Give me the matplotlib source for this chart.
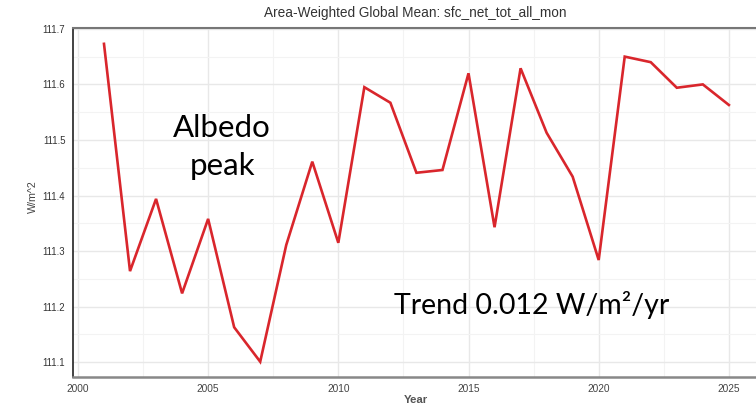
import matplotlib
matplotlib.use("Agg")
import matplotlib.pyplot as plt
from matplotlib.ticker import MultipleLocator, FormatStrFormatter

years = list(range(2001, 2026))
values = [111.673, 111.264, 111.394, 111.224, 111.358, 111.163, 111.101, 111.311,
          111.461, 111.315, 111.595, 111.567, 111.441, 111.446, 111.620, 111.343,
          111.629, 111.513, 111.434, 111.284, 111.650, 111.640, 111.594, 111.600,
          111.563]
title = "Area-Weighted Global Mean: sfc_net_tot_all_mon"
xlabel = "Year"
ylabel = "W/m^2"
note1a = "Albedo"
note1b = "peak"
note2 = "Trend 0.012 W/m²/yr"

plt.rcParams["font.family"] = ["Liberation Sans", "DejaVu Sans"]

fig = plt.figure(figsize=(7.56, 4.12), dpi=100)
ax = fig.add_axes([73/756, 1-377/412, 1-73/756+0.002, (377-28)/412])

ax.plot(years, values, color="#d9262c", lw=1.9, solid_joinstyle="miter")
ax.xaxis.set_major_locator(MultipleLocator(5))
ax.xaxis.set_minor_locator(MultipleLocator(2.5))
ax.yaxis.set_major_locator(MultipleLocator(0.1))
ax.yaxis.set_minor_locator(MultipleLocator(0.05))
ax.yaxis.set_major_formatter(FormatStrFormatter("%.1f"))
ax.set_xlim(1999.81, 2026.1)
ax.set_ylim(111.0735, 111.7015)
ax.grid(which="major", color="#e8e8e8", lw=1.0)
ax.grid(which="minor", color="#f3f3f3", lw=0.8)
ax.set_axisbelow(True)
ax.tick_params(which="both", length=0)
ax.tick_params(axis="x", labelsize=7.3, labelcolor="#444444", pad=5)
ax.tick_params(axis="y", labelsize=6.9, labelcolor="#333333", pad=5.5)
ax.spines["right"].set_visible(False)
ax.spines["left"].set_color("#222222")
ax.spines["left"].set_linewidth(1.2)
ax.spines["bottom"].set_color("#888888")
ax.spines["bottom"].set_linewidth(1.8)
ax.spines["top"].set_color("#777777")
ax.spines["top"].set_linewidth(1.5)

fig.text(415/756, 1-13/412, title, ha="center", va="center", fontsize=9.8, color="#333333")
fig.text(33/756, 1-197/412, ylabel, ha="center", va="center", rotation=90, fontsize=7.7, color="#444444")
fig.text(416/756, 1-400/412, xlabel, ha="center", va="center", fontsize=8.2, color="#555555",
         fontweight="bold")

ax.text(2005.54, 111.522, note1a, ha="center", va="center", fontsize=22.5, family="Lato", color="black")
ax.text(2005.54, 111.454, note1b, ha="center", va="center", fontsize=22.5, family="Lato", color="black")
ax.text(2012.15, 111.203, note2, ha="left", va="center", fontsize=20.5, family="Lato", color="black")

fig.savefig("out.png", dpi=100)
